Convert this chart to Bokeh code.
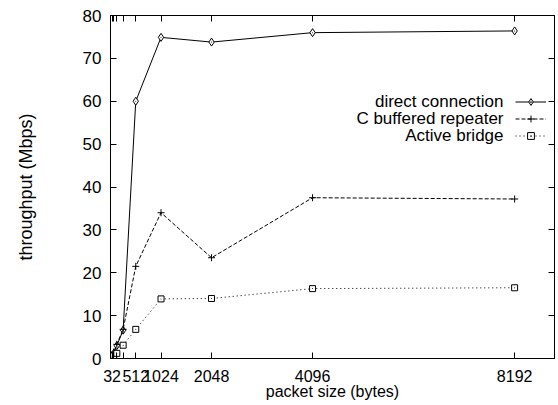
from bokeh.plotting import figure
from bokeh.models import FixedTicker, LinearAxis, Range1d, Legend, LegendItem, Label
from bokeh.embed import file_html
from bokeh.resources import INLINE

# ---- data ----
packet_sizes = [32, 64, 128, 256, 512, 1024, 2048, 4096, 8192]
direct_connection = [0.5, 1.2, 3.0, 6.6, 60.0, 74.9, 73.8, 76.0, 76.4]
c_buffered_repeater = [0.5, 1.5, 3.3, 6.8, 21.5, 34.0, 23.5, 37.5, 37.2]
active_bridge = [0.3, 0.6, 1.2, 3.1, 6.8, 13.9, 14.0, 16.3, 16.5]
series_names = ["direct connection", "C buffered repeater", "Active bridge"]
x_tick_values = [32, 64, 128, 256, 512, 1024, 2048, 4096, 8192]
x_tick_labels = ["32", "", "", "", "512", "1024", "2048", "4096", "8192"]
y_tick_values = [0, 10, 20, 30, 40, 50, 60, 70, 80]

FONT = "Liberation Sans"
W, H = 558, 405

p = figure(width=W, height=H, output_backend="svg", toolbar_location=None,
           x_range=Range1d(0, 9000), y_range=Range1d(0, 80),
           min_border_left=110, min_border_right=4, min_border_top=15,
           min_border_bottom=47,
           x_axis_label="packet size (bytes)", y_axis_label="throughput (Mbps)")
p.grid.visible = False
p.outline_line_color = "black"
p.outline_line_width = 1
p.background_fill_color = "white"
p.border_fill_color = "white"

overrides = {v: s for v, s in zip(x_tick_values, x_tick_labels)}

def style_axis(ax, ticks, show_labels):
    ax.ticker = FixedTicker(ticks=ticks, minor_ticks=[])
    ax.major_tick_in = 6
    ax.major_tick_out = 0
    ax.minor_tick_in = 0
    ax.minor_tick_out = 0
    ax.axis_line_color = "black"
    ax.major_tick_line_color = "black"
    ax.major_label_text_font = FONT
    ax.major_label_text_color = "black"
    ax.axis_label_text_font = FONT
    ax.axis_label_text_font_style = "normal"
    ax.axis_label_text_color = "black"
    if not show_labels:
        ax.major_label_text_font_size = "0px"
        ax.major_label_standoff = 0

xa = p.xaxis[0]
style_axis(xa, x_tick_values, True)
xa.major_label_overrides = overrides
xa.major_label_text_font_size = "16px"
xa.major_label_standoff = 11
xa.axis_label_text_font_size = "16px"
xa.axis_label_standoff = -2

ya = p.yaxis[0]
style_axis(ya, y_tick_values, True)
ya.major_label_text_font_size = "17px"
ya.major_label_standoff = 9
ya.axis_label_text_font_size = "18px"
ya.axis_label_standoff = 44

top = LinearAxis()
style_axis(top, x_tick_values, False)
top.major_label_overrides = {v: "" for v in x_tick_values}
p.add_layout(top, "above")
right = LinearAxis()
style_axis(right, y_tick_values, False)
right.major_label_overrides = {v: "" for v in y_tick_values}
p.add_layout(right, "right")

# ---- series ----
l1 = p.line(packet_sizes, direct_connection, line_color="black", line_width=1)
m1 = p.scatter(packet_sizes, direct_connection, marker="diamond", size=8,
               line_color="black", fill_color="white", line_width=1)
d1 = p.scatter(packet_sizes, direct_connection, marker="dot", size=4, line_color="black")

l2 = p.line(packet_sizes, c_buffered_repeater, line_color="black", line_width=1,
            line_dash="4 2")
m2 = p.scatter(packet_sizes, c_buffered_repeater, marker="cross", size=7,
               line_color="black", line_width=1)

l3 = p.line(packet_sizes, active_bridge, line_color="black", line_width=1,
            line_dash="1 3")
m3 = p.scatter(packet_sizes, active_bridge, marker="square", size=6,
               line_color="black", fill_color="white", line_width=1)
d3 = p.scatter(packet_sizes, active_bridge, marker="dot", size=4, line_color="black")

legend = Legend(items=[
    LegendItem(label=" ", renderers=[l1, m1, d1]),
    LegendItem(label=" ", renderers=[l2, m2]),
    LegendItem(label=" ", renderers=[l3, m3, d3]),
], location=(405, 214), padding=0, margin=0, spacing=0, label_height=17,
   glyph_height=17, glyph_width=31, label_standoff=0,
   border_line_color=None, background_fill_alpha=0,
   label_text_font_size="1px")
p.add_layout(legend, "center")

for i, name in enumerate(series_names):
    p.add_layout(Label(x=393, y=257 - 17 * i, x_units="screen", y_units="screen",
                       text=name, text_align="right", text_baseline="middle",
                       text_font=FONT, text_font_size="17px", text_color="black"))

open("out.html", "w").write(file_html(p, INLINE))
